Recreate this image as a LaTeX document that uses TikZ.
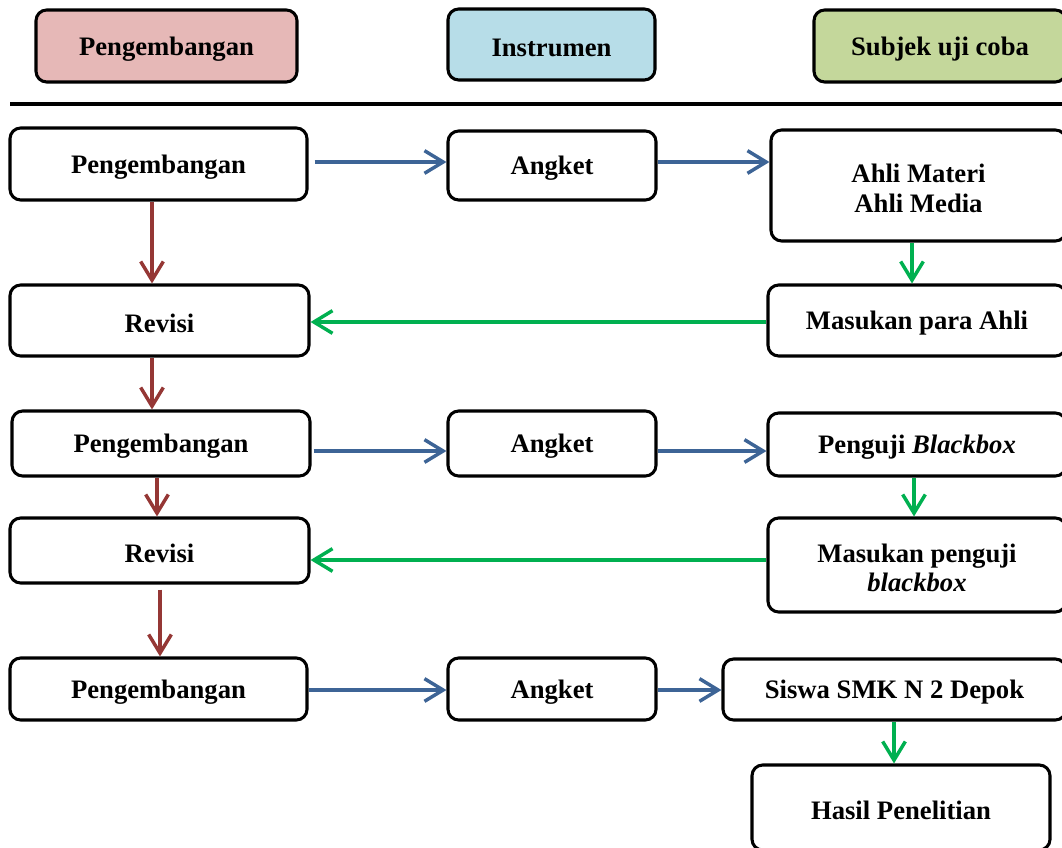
\documentclass[tikz,border=0pt]{standalone}
\usepackage{fontspec}
\setmainfont{Liberation Serif}
\usetikzlibrary{arrows.meta,calc}
\definecolor{hdrred}{HTML}{E6B8B7}
\definecolor{hdrblue}{HTML}{B7DDE8}
\definecolor{hdrgreen}{HTML}{C4D79B}
\definecolor{arrblue}{HTML}{3D6496}
\definecolor{arrred}{HTML}{953735}
\definecolor{arrgreen}{HTML}{00B050}
\tikzset{
  box/.style={draw=black, line width=2.3pt, rounded corners=8pt, inner sep=0pt},
  boxtext/.style={inner sep=0pt, align=center, font=\fontsize{20}{22}\selectfont\bfseries},
  conn/.style={line width=2.6pt, -{Straight Barb[length=14pt,width=17pt,line width=2.6pt]}},
  bluearr/.style={conn, draw=arrblue},
  redarr/.style={conn, draw=arrred},
  greenarr/.style={conn, draw=arrgreen},
}
% \bx[style]{name}{x1}{y1}{x2}{y2}{text}  (pixel coordinates)
\newcommand\bx[7][]{%
  \node[box,#1, minimum width={(#5-#3)*0.75pt}, minimum height={(#6-#4)*0.75pt}]
    (#2) at ({(#3+#5)/2},{(#4+#6)/2}) {};
  \node[boxtext] (#2t) at ($(#2.center)+(0,3)$) {#7};}
\begin{document}
\begin{tikzpicture}[x=0.75pt,y=-0.75pt]
\useasboundingbox (0,0) rectangle (1062,848);
\clip (0,0) rectangle (1062,848);
% header
\bx[fill=hdrred]{h1}{36}{10}{297}{82}{Pengembangan}
\bx[fill=hdrblue]{h2}{448}{9}{655}{80}{Instrumen}
\bx[fill=hdrgreen]{h3}{814}{10}{1066}{82}{Subjek uji coba}
\draw[line width=2.6pt] (10,104) -- (1062,104);
% row 1
\bx{p1}{10}{128}{307}{200}{Pengembangan}
\bx{a1}{448}{131}{656}{200}{Angket}
\bx{s1}{771}{130}{1066}{241}{Ahli Materi\\Ahli Media}
% row 2
\bx{r1}{10}{285}{309}{356}{Revisi}
\bx{m1}{768}{285}{1066}{356}{Masukan para Ahli}
% row 3
\bx{p2}{12}{411}{310}{476}{Pengembangan}
\bx{a2}{448}{411}{656}{476}{Angket}
\bx{s2}{768}{413}{1066}{476}{Penguji \textit{Blackbox}}
% row 4
\bx{r2}{10}{518}{309}{583}{Revisi}
\bx{m2}{768}{518}{1066}{612}{Masukan penguji\\\textit{blackbox}}
% row 5
\bx{p3}{10}{658}{307}{720}{Pengembangan}
\bx{a3}{448}{658}{656}{720}{Angket}
\bx{s3}{723}{659}{1066}{720}{Siswa SMK N 2 Depok}
\bx{hp}{752}{765}{1050}{850}{Hasil Penelitian}
% blue arrows
\draw[bluearr, shorten <=4.5pt] (p1.east |- 0,162) -- (a1.west |- 0,162);
\draw[bluearr] (a1.east |- 0,162) -- (s1.west |- 0,162);
\draw[bluearr, shorten <=1.5pt] (p2.east |- 0,451) -- (a2.west |- 0,451);
\draw[bluearr] (a2.east |- 0,451) -- (s2.west |- 0,451);
\draw[bluearr] (p3.east |- 0,690) -- (a3.west |- 0,690);
\draw[bluearr] (a3.east |- 0,690) -- (s3.west |- 0,690);
% red arrows
\draw[redarr] (p1.south -| 152,0) -- (r1.north -| 152,0);
\draw[redarr] (r1.south -| 152,0) -- (p2.north -| 152,0);
\draw[redarr] (p2.south -| 157,0) -- (r2.north -| 157,0);
\draw[redarr, shorten <=3.75pt] (r2.south -| 160,0) -- (p3.north -| 160,0);
% green arrows
\draw[greenarr] (s1.south -| 912,0) -- (m1.north -| 912,0);
\draw[greenarr] (m1.west |- 0,322) -- (r1.east |- 0,322);
\draw[greenarr] (s2.south -| 914,0) -- (m2.north -| 914,0);
\draw[greenarr] (m2.west |- 0,560) -- (r2.east |- 0,560);
\draw[greenarr] (s3.south -| 894,0) -- (hp.north -| 894,0);
\end{tikzpicture}
\end{document}
